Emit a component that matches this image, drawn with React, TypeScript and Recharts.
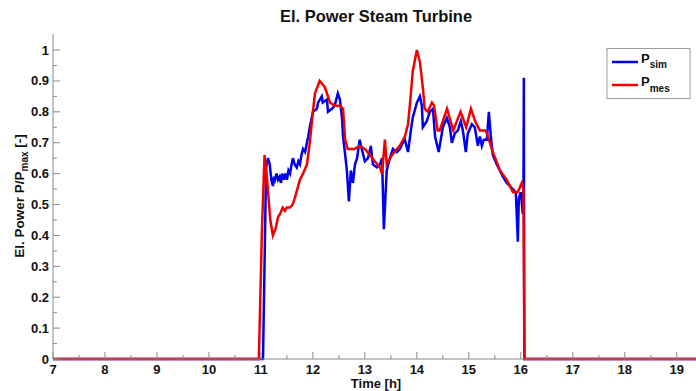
import { LineChart, Line, XAxis, YAxis } from 'recharts';

// time in hours, normalised power P/Pmax
const simTime = [
  7, 11.04, 11.1, 11.135, 11.17, 11.2, 11.23, 11.25, 11.27, 11.3, 11.33, 11.36, 11.385,
  11.41, 11.44, 11.47, 11.5, 11.53, 11.56, 11.59, 11.615, 11.65, 11.69, 11.72, 11.75,
  11.78, 11.81, 11.85, 11.885, 11.91, 11.94, 12.0, 12.077, 12.1, 12.17, 12.19, 12.27,
  12.29, 12.365, 12.42, 12.48, 12.52, 12.56, 12.58, 12.615, 12.654, 12.673, 12.692,
  12.73, 12.77, 12.81, 12.85, 12.9, 12.94, 13.0, 13.06, 13.115, 13.154, 13.23, 13.29,
  13.33, 13.365, 13.42, 13.48, 13.54, 13.615, 13.673, 13.73, 13.77, 13.83, 13.885,
  13.92, 14.0, 14.058, 14.096, 14.115, 14.19, 14.25, 14.31, 14.35, 14.42, 14.46, 14.5,
  14.577, 14.635, 14.673, 14.73, 14.79, 14.846, 14.885, 14.942, 14.98, 15.058, 15.115,
  15.173, 15.212, 15.25, 15.288, 15.346, 15.385, 15.423, 15.462, 15.538, 15.596, 15.654,
  15.731, 15.788, 15.846, 15.904, 15.942, 15.962, 16.0, 16.038, 16.05, 16.058, 16.066, 19.37,
];
const simValue = [
  0, 0, 0.62, 0.65, 0.63, 0.58, 0.56, 0.59, 0.58, 0.6, 0.58, 0.59, 0.57,
  0.6, 0.58, 0.6, 0.58, 0.61, 0.6, 0.63, 0.65, 0.63, 0.62, 0.64, 0.63,
  0.66, 0.68, 0.67, 0.7, 0.72, 0.75, 0.8, 0.81, 0.83, 0.85, 0.83, 0.84,
  0.8, 0.81, 0.82, 0.86, 0.84, 0.78, 0.72, 0.67, 0.61, 0.56, 0.51,
  0.61, 0.57, 0.63, 0.65, 0.71, 0.68, 0.64, 0.65, 0.69, 0.63, 0.62, 0.63,
  0.65, 0.42, 0.61, 0.65, 0.68, 0.67, 0.68, 0.7, 0.71, 0.67, 0.74,
  0.78, 0.83, 0.85, 0.82, 0.75, 0.77, 0.8, 0.81, 0.72, 0.67, 0.71, 0.75,
  0.78, 0.75, 0.7, 0.73, 0.74, 0.77, 0.74, 0.67, 0.73, 0.76, 0.75,
  0.69, 0.72, 0.69, 0.71, 0.71, 0.8, 0.72, 0.66, 0.63, 0.61, 0.59,
  0.57, 0.56, 0.55, 0.54, 0.38, 0.52, 0.54, 0.47, 0.5, 0.91, 0, 0,
];

const mesTime = [
  7, 10.96, 11.02, 11.07, 11.12, 11.18, 11.23, 11.28, 11.33, 11.37, 11.42, 11.46, 11.5,
  11.56, 11.61, 11.65, 11.75, 11.81, 11.885, 11.94, 12.0, 12.04, 12.13, 12.23, 12.33,
  12.42, 12.52, 12.58, 12.62, 12.67, 12.8, 12.9, 13.0, 13.1, 13.19, 13.29, 13.33, 13.385,
  13.42, 13.52, 13.67, 13.77, 13.83, 13.87, 13.92, 14.0, 14.06, 14.12, 14.15, 14.21,
  14.29, 14.33, 14.4, 14.44, 14.58, 14.7, 14.84, 14.95, 15.04, 15.12, 15.21, 15.31,
  15.35, 15.46, 15.6, 15.73, 15.85, 15.94, 16.02, 16.05, 16.07, 19.37,
];
const mesValue = [
  0, 0, 0.42, 0.66, 0.58, 0.45, 0.4, 0.42, 0.46, 0.47, 0.49, 0.48, 0.49,
  0.49, 0.5, 0.52, 0.58, 0.6, 0.63, 0.7, 0.8, 0.86, 0.9, 0.88, 0.83,
  0.82, 0.82, 0.81, 0.71, 0.68, 0.68, 0.69, 0.68, 0.66, 0.64, 0.62, 0.6, 0.71,
  0.63, 0.66, 0.69, 0.72, 0.76, 0.83, 0.93, 1.0, 0.96, 0.87, 0.81, 0.8,
  0.83, 0.82, 0.74, 0.74, 0.81, 0.74, 0.8, 0.75, 0.81, 0.77, 0.74, 0.74,
  0.73, 0.67, 0.61, 0.58, 0.54, 0.54, 0.57, 0.55, 0, 0,
];

const hourTicks = [
  7, 7.5, 8, 8.5, 9, 9.5, 10, 10.5, 11, 11.5, 12, 12.5, 13, 13.5, 14, 14.5, 15, 15.5,
  16, 16.5, 17, 17.5, 18, 18.5, 19,
];
const powerTicks = [
  0, 0.05, 0.1, 0.15, 0.2, 0.25, 0.3, 0.35, 0.4, 0.45, 0.5, 0.55, 0.6, 0.65, 0.7, 0.75,
  0.8, 0.85, 0.9, 0.95, 1,
];

const simData = simTime.map((t, i) => ({ t, v: simValue[i] }));
const mesData = mesTime.map((t, i) => ({ t, v: mesValue[i] }));

const AXIS = '#8a8a8a';
const INK = '#111';
const FONT = '"Liberation Sans", Arial, Helvetica, sans-serif';
const BLUE = '#0000f0';
const RED = '#f00000';

function TimeTick({ x, y, payload, side }: any) {
  const major = Number.isInteger(payload.value);
  const len = major ? 7 : 4;
  const dir = side === 'top' ? 1 : -1;
  return (
    <g>
      <line x1={x} x2={x} y1={y} y2={y + dir * len} stroke={AXIS} />
      {side !== 'top' && major && (
        <text x={x} y={y + 15} textAnchor="middle" fontSize={13} fontWeight="bold" fill={INK} fontFamily={FONT}>
          {payload.value}
        </text>
      )}
    </g>
  );
}

function PowerTick({ x, y, payload }: any) {
  const v = payload.value;
  const major = Math.round(v * 20) % 2 === 0;
  const len = major ? 7 : 4;
  const txt = v === 0 ? '0' : v === 1 ? '1' : v.toFixed(1);
  return (
    <g>
      <line x1={x} x2={x + len} y1={y} y2={y} stroke={AXIS} />
      {major && (
        <text x={x - 4} y={y + 4.5} textAnchor="end" fontSize={13} fontWeight="bold" fill={INK} fontFamily={FONT}>
          {txt}
        </text>
      )}
    </g>
  );
}

export default function App() {
  return (
    <div style={{ position: 'absolute', left: 0, top: 0, width: 696, height: 391, background: '#fff', fontFamily: FONT }}>
      <LineChart width={696} height={391} margin={{ top: 34, right: 0, bottom: 0, left: 0 }}>
        <XAxis
          dataKey="t"
          type="number"
          domain={[7, 19.37]}
          ticks={hourTicks}
          interval={0}
          height={32}
          tickSize={0}
          tickMargin={0}
          tickLine={false}
          axisLine={{ stroke: AXIS }}
          tick={<TimeTick side="bottom" />}
        />
        <XAxis
          xAxisId="top"
          orientation="top"
          type="number"
          domain={[7, 19.37]}
          ticks={hourTicks}
          interval={0}
          height={0}
          tickSize={0}
          tickMargin={0}
          tickLine={false}
          axisLine={{ stroke: AXIS }}
          tick={<TimeTick side="top" />}
        />
        <YAxis
          type="number"
          domain={[0, 1.052]}
          ticks={powerTicks}
          interval={0}
          width={53}
          tickSize={0}
          tickMargin={0}
          tickLine={false}
          axisLine={{ stroke: AXIS }}
          tick={<PowerTick />}
        />
        <Line data={simData} dataKey="v" type="linear" stroke={BLUE} strokeWidth={2.5} dot={false} isAnimationActive={false} />
        <Line data={mesData} dataKey="v" type="linear" stroke={RED} strokeWidth={2.5} dot={false} isAnimationActive={false} />
      </LineChart>

      <svg width={696} height={391} style={{ position: 'absolute', left: 0, top: 0, pointerEvents: 'none' }}>
        <text x={376} y={22} textAnchor="middle" fontSize={16.5} fontWeight="bold" fill={INK} fontFamily={FONT}>
          El. Power Steam Turbine
        </text>
        <text x={376} y={388} textAnchor="middle" fontSize={13} fontWeight="bold" fill={INK} fontFamily={FONT}>
          Time [h]
        </text>
        <text
          x={24}
          y={196}
          transform="rotate(-90 24 196)"
          textAnchor="middle"
          fontSize={13.5}
          fontWeight="bold"
          fill={INK}
          fontFamily={FONT}
        >
          El. Power P/P<tspan dy={4} fontSize={10}>max</tspan>
          <tspan dy={-4}> [-]</tspan>
        </text>

        <rect x={607} y={48.5} width={83} height={50} fill="#fff" stroke="#9a9a9a" />
        <line x1={612} x2={638} y1={62} y2={62} stroke={BLUE} strokeWidth={2.5} />
        <text x={641} y={63} fontSize={13} fontWeight="bold" fill={INK} fontFamily={FONT}>
          P<tspan dy={5} fontSize={10}>sim</tspan>
        </text>
        <line x1={612} x2={638} y1={85} y2={85} stroke={RED} strokeWidth={2.5} />
        <text x={641} y={86} fontSize={13} fontWeight="bold" fill={INK} fontFamily={FONT}>
          P<tspan dy={6} fontSize={10}>mes</tspan>
        </text>
      </svg>
    </div>
  );
}
